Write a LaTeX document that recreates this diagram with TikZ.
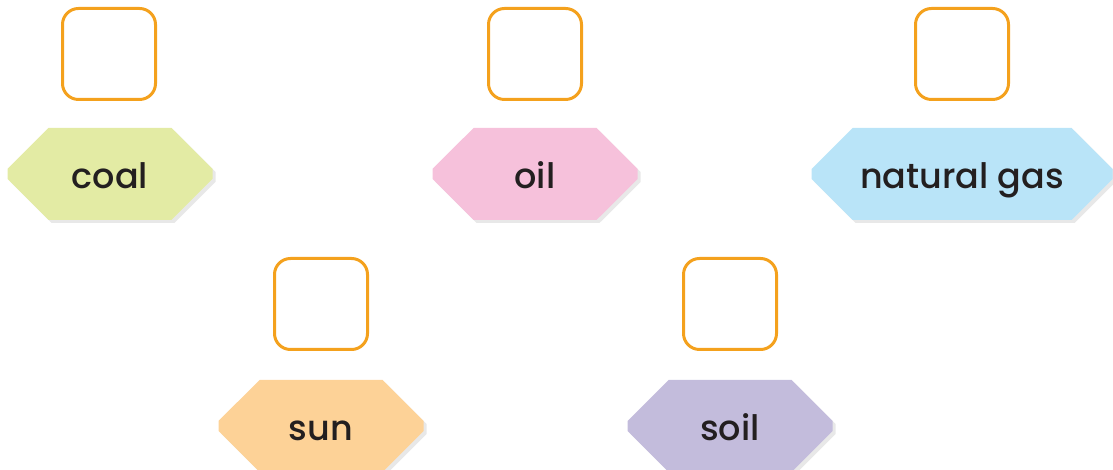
\documentclass[tikz,border=0pt]{standalone}
\usepackage{fontspec}
\setmainfont{Poppins}[UprightFont=* Medium]
\usetikzlibrary{shapes.misc,shadows}
\definecolor{boxorange}{HTML}{F4A11D}
\definecolor{coalfill}{HTML}{E3EBA4}
\definecolor{oilfill}{HTML}{F6C1DB}
\definecolor{gasfill}{HTML}{B9E4F8}
\definecolor{sunfill}{HTML}{FDD297}
\definecolor{soilfill}{HTML}{C3BCDC}
\definecolor{inktext}{HTML}{231F20}
\begin{document}
\begin{tikzpicture}[x=1pt,y=1pt]
  \useasboundingbox (0,0) rectangle (1113,470);
  \begin{scope}
    \begin{scope}[every node/.style={draw=boxorange,line width=3pt,rounded corners=16pt,
                                    minimum width=93pt,minimum height=91pt}]
      \node (coalbox) at (109,416) {};
      \node (oilbox)  at (535,416) {};
      \node (gasbox)  at (962,416) {};
      \node (sunbox)  at (321,166) {};
      \node (soilbox) at (730,166) {};
    \end{scope}
    \begin{scope}[every node/.style={chamfered rectangle,chamfered rectangle xsep=36pt,
                                    chamfered rectangle ysep=20pt,minimum width=205pt,
                                    minimum height=92pt,inner sep=0pt,text=inktext,
                                    text height=36pt,text depth=6pt,
                                    font=\fontsize{35}{40}\selectfont,
                                    drop shadow={opacity=0.18,shadow xshift=3pt,shadow yshift=-3pt}}]
      \node[fill=coalfill] (coal) at (110,296) {coal};
      \node[fill=oilfill]  (oil)  at (535,296) {oil};
      \node[fill=gasfill,minimum width=301pt] (gas) at (962,296) {natural gas};
      \node[fill=sunfill]  (sun)  at (321,44) {sun};
      \node[fill=soilfill] (soil) at (730,44) {soil};
    \end{scope}
  \end{scope}
\end{tikzpicture}
\end{document}
